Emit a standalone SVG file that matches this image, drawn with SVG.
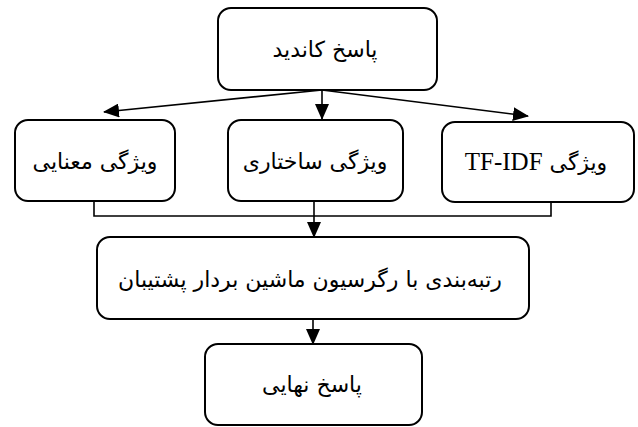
<svg xmlns="http://www.w3.org/2000/svg" width="638" height="427" viewBox="0 0 638 427">
<style>
.box{fill:#fff;stroke:#000;stroke-width:2}
.t{font-family:"DejaVu Sans","Liberation Serif",serif;font-size:22px;text-anchor:middle;fill:#000}
.c{fill:none;stroke:#000;stroke-width:1.6}
</style>
<defs>
<marker id="ah" markerWidth="16" markerHeight="14" refX="15" refY="7" orient="auto" markerUnits="userSpaceOnUse">
<path d="M0,0 L16,7 L0,14 z" fill="#000"/>
</marker>
</defs>
<g id="connectors">
<path class="c" d="M322,90 L104,112" marker-end="url(#ah)"/>
<path class="c" d="M322,90 L322,119" marker-end="url(#ah)"/>
<path class="c" d="M322,90 L528,116" marker-end="url(#ah)"/>
<path class="c" d="M94,202 L94,216 L551,216 L551,202"/>
<path class="c" d="M314,200 L314,237" marker-end="url(#ah)"/>
<path class="c" d="M313,319 L313,344" marker-end="url(#ah)"/>
</g>
<g id="n1"><rect class="box" x="218" y="8" width="219" height="82" rx="13"/><text class="t" x="325" y="57" direction="rtl">پاسخ کاندید</text></g>
<g id="n2"><rect class="box" x="15" y="120" width="160" height="81" rx="13"/><text class="t" x="95" y="169" direction="rtl">ویژگی معنایی</text></g>
<g id="n3"><rect class="box" x="228" y="120" width="175" height="81" rx="13"/><text class="t" x="315" y="169" direction="rtl">ویژگی ساختاری</text></g>
<g id="n4"><rect class="box" x="442" y="122" width="192" height="80" rx="13"/><text class="t" x="536" y="170" direction="rtl" unicode-bidi="embed">ویژگی <tspan font-family="Liberation Serif" font-size="25">TF-IDF</tspan></text></g>
<g id="n5"><rect class="box" x="97" y="237" width="432" height="82" rx="13"/><text class="t" x="310" y="287" direction="rtl">رتبه‌بندی با رگرسیون ماشین بردار پشتیبان</text></g>
<g id="n6"><rect class="box" x="205" y="344" width="217" height="81" rx="13"/><text class="t" x="312" y="392" direction="rtl">پاسخ نهایی</text></g>
</svg>
